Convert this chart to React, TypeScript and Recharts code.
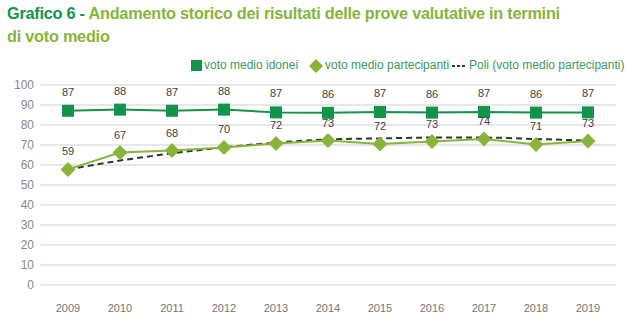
import React from 'react';
import { LineChart, Line, XAxis, YAxis, CartesianGrid, LabelList } from 'recharts';

const years = ['2009', '2010', '2011', '2012', '2013', '2014', '2015', '2016', '2017', '2018', '2019'];
const votoIdonei = [87.1, 87.7, 87.1, 87.7, 86.3, 86.1, 86.5, 86.2, 86.5, 86.2, 86.3];
const votoPartecipanti = [57.8, 66.2, 67.2, 68.8, 70.8, 72.2, 70.5, 71.7, 73.0, 70.3, 72.0];
const poliTrend = [57.8, 62.2, 65.8, 68.8, 71.2, 72.8, 73.3, 73.7, 73.7, 73.0, 72.2];
const labelsIdonei = [87, 88, 87, 88, 87, 86, 87, 86, 87, 86, 87];
const labelsPartecipanti = [59, 67, 68, 70, 72, 73, 72, 73, 74, 71, 73];
const yTicks = [0, 10, 20, 30, 40, 50, 60, 70, 80, 90, 100];

const data = years.map((year, i) => ({
    year,
    idonei: votoIdonei[i],
    partecipanti: votoPartecipanti[i],
    poli: poliTrend[i],
}));

const DARK_GREEN = '#12944a';
const LIGHT_GREEN = '#86b53a';
const FONT = '"Liberation Sans", Arial, sans-serif';

const makeLabel = (labels: number[], offset: number) => (props: any) => {
    const { x, y, index } = props;
    return (
        <text x={x} y={y - offset} textAnchor="middle" fontSize={11} fill="#404040" fontFamily={FONT}>
            {labels[index]}
        </text>
    );
};

const Square = (props: any) => {
    const { cx, cy } = props;
    return <rect x={cx - 6} y={cy - 6} width={12} height={12} fill={DARK_GREEN} />;
};

const Diamond = (props: any) => {
    const { cx, cy } = props;
    const r = 7.5;
    return <polygon points={`${cx},${cy - r} ${cx + r},${cy} ${cx},${cy + r} ${cx - r},${cy}`} fill={LIGHT_GREEN} />;
};

const App = () => {
    return (
        <div style={{ position: 'absolute', left: 0, top: 0, width: 640, height: 324, background: '#fff', fontFamily: FONT }}>
            <div style={{ position: 'absolute', left: 7, top: 2, fontSize: 16.3, fontWeight: 'bold', lineHeight: '23px', whiteSpace: 'nowrap', letterSpacing: -0.25, color: LIGHT_GREEN }}>
                <span style={{ color: DARK_GREEN }}>Grafico 6 - </span>
                Andamento storico dei risultati delle prove valutative in termini
                <br />
                di voto medio
            </div>
            {/* legenda */}
            <div style={{ position: 'absolute', top: 58, left: 0, height: 16, fontSize: 12, color: '#3a9a5a', whiteSpace: 'nowrap' }}>
                <div style={{ position: 'absolute', left: 191, top: 2, width: 11, height: 11, background: DARK_GREEN }} />
                <span style={{ position: 'absolute', left: 204, top: 0 }}>voto medio idonei</span>
                <svg style={{ position: 'absolute', left: 308, top: 1 }} width={16} height={14}>
                    <polygon points="8,0 15,7 8,14 1,7" fill={LIGHT_GREEN} />
                </svg>
                <span style={{ position: 'absolute', left: 325, top: 0 }}>voto medio partecipanti</span>
                <svg style={{ position: 'absolute', left: 452, top: 1 }} width={14} height={14}>
                    <line x1={0} y1={7} x2={13} y2={7} stroke="#333" strokeWidth={2} strokeDasharray="3 2" />
                </svg>
                <span style={{ position: 'absolute', left: 469, top: 0 }}>Poli (voto medio partecipanti)</span>
            </div>
            <div style={{ position: 'absolute', left: 0, top: 0 }}>
                <LineChart width={640} height={324} data={data} margin={{ top: 85, right: 24, bottom: 0, left: 0 }}>
                    <CartesianGrid vertical={false} stroke="#d0d0d0" strokeWidth={1.2} />
                    <XAxis dataKey="year" axisLine={false} tickLine={false} tickMargin={13} height={39}
                        padding={{ left: 28, right: 28 }}
                        tick={{ fill: '#777', fontSize: 11, fontFamily: FONT }} />
                    <YAxis domain={[0, 100]} ticks={yTicks} axisLine={false} tickLine={false} width={40} tickMargin={0}
                        interval={0} tick={{ fill: '#888', fontSize: 12, fontFamily: FONT }} />
                    <Line dataKey="poli" stroke="#333" strokeWidth={2} strokeDasharray="6 4" type="monotone" dot={false} isAnimationActive={false} />
                    <Line dataKey="partecipanti" stroke={LIGHT_GREEN} strokeWidth={2} dot={<Diamond />} isAnimationActive={false}>
                        <LabelList dataKey="partecipanti" content={makeLabel(labelsPartecipanti, 14)} />
                    </Line>
                    <Line dataKey="idonei" stroke={DARK_GREEN} strokeWidth={2} dot={<Square />} isAnimationActive={false}>
                        <LabelList dataKey="idonei" content={makeLabel(labelsIdonei, 15)} />
                    </Line>
                </LineChart>
            </div>
        </div>
    );
};

export default App;
